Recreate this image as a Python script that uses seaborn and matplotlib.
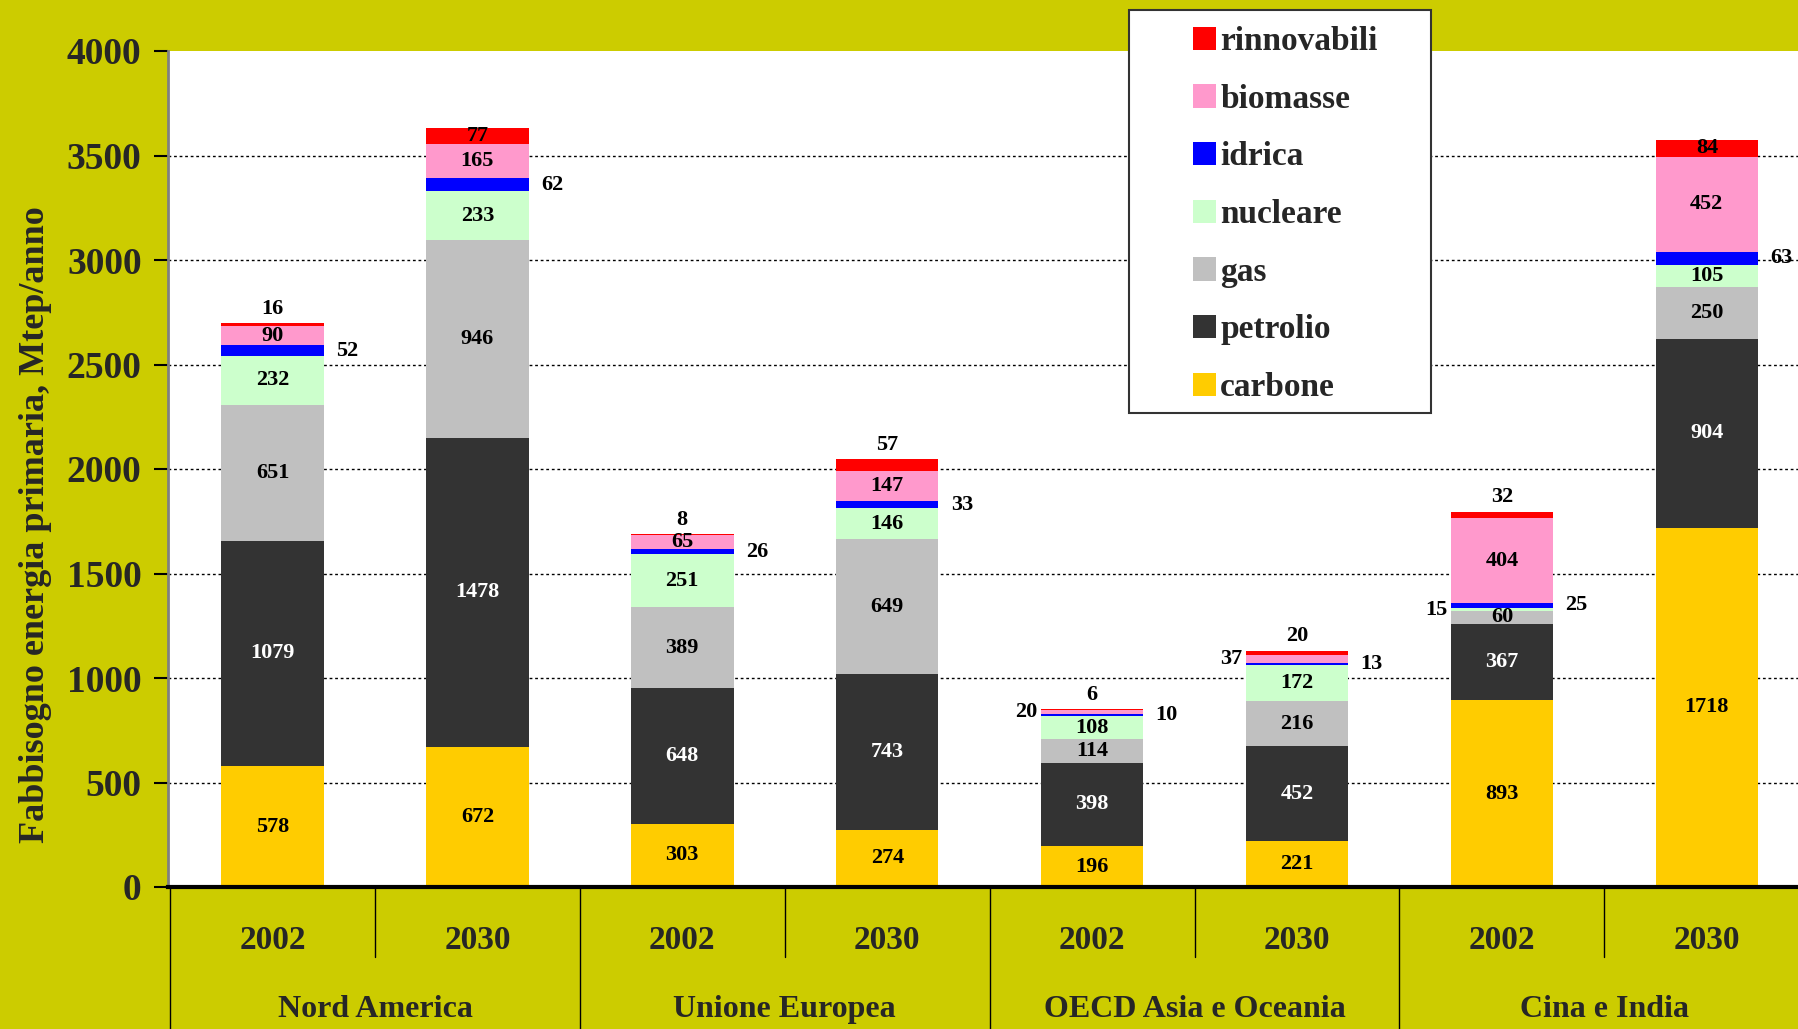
import numpy as np
import pandas as pd
import seaborn as sns
import matplotlib.pyplot as plt
from matplotlib.patches import Rectangle, Patch

regions = ['Nord America', 'Unione Europea', 'OECD Asia e Oceania', 'Cina e India']
years = ['2002', '2030']
sources = ['carbone', 'petrolio', 'gas', 'nucleare', 'idrica', 'biomasse', 'rinnovabili']
colors = ['#FFCC00', '#333333', '#C0C0C0', '#CCFFCC', '#0000FF', '#FF99CC', '#FF0000']

# one value per bar: NA 2002, NA 2030, UE 2002, UE 2030, OECD 2002, OECD 2030, CI 2002, CI 2030
carbone = [578, 672, 303, 274, 196, 221, 893, 1718]
petrolio = [1079, 1478, 648, 743, 398, 452, 367, 904]
gas = [651, 946, 389, 649, 114, 216, 60, 250]
nucleare = [232, 233, 251, 146, 108, 172, 15, 105]
idrica = [52, 62, 26, 33, 10, 13, 25, 63]
biomasse = [90, 165, 65, 147, 20, 37, 404, 452]
rinnovabili = [16, 77, 8, 57, 6, 20, 32, 84]

OLIVE = '#CCCC00'
bars = [f'{r}\n{y}' for r in regions for y in years]
df = pd.DataFrame(dict(zip(sources, [carbone, petrolio, gas, nucleare, idrica, biomasse, rinnovabili])),
                  index=bars)
cum = df.cumsum(axis=1)

sns.set_style('white')
plt.rcParams['font.family'] = ['Liberation Serif', 'DejaVu Serif']
plt.rcParams['font.weight'] = 'bold'

fig = plt.figure(figsize=(17.98, 10.29), dpi=100, facecolor=OLIVE)
ax = fig.add_axes([168 / 1798, 1 - 887 / 1029, 1 - 168 / 1798, (887 - 51) / 1029])
ax.set_facecolor('white')

# stacked bars: draw cumulative totals from top layer down
for src, col in zip(sources[::-1], colors[::-1]):
    sns.barplot(x=bars, y=cum[src].values, order=bars, color=col, saturation=1,
                width=0.5, linewidth=0, ax=ax, zorder=3)

ax.set_xlim(-0.51, 7.445)
ax.set_ylim(0, 4000)
ax.set_yticks(np.arange(0, 4001, 500))
ax.tick_params(axis='y', labelsize=27, length=10, width=1.5, pad=9, left=True, color='black')
ax.set_xticks([])
ax.set_xlabel('')
for lab in ax.get_yticklabels():
    lab.set_fontweight('bold')
for y in range(500, 4000, 500):
    ax.axhline(y, color='black', lw=1, ls=(0, (2, 2)), zorder=1)
for s in ['top', 'right']:
    ax.spines[s].set_visible(False)
ax.spines['left'].set_color('#808080')
ax.spines['left'].set_linewidth(2)
ax.spines['bottom'].set_color('black')
ax.spines['bottom'].set_linewidth(3)
ax.spines['bottom'].set_zorder(5)

ax.set_ylabel('Fabbisogno energia primaria, Mtep/anno', fontsize=26, fontweight='bold')
ax.yaxis.set_label_coords(-0.071, 0.434)

# value labels
for i, b in enumerate(bars):
    bottom = 0
    for src in sources:
        v = df.loc[b, src]
        top = bottom + v
        mid = (bottom + top) / 2
        txtcol = 'white' if src == 'petrolio' else 'black'
        kw = dict(fontsize=16, fontweight='bold', color=txtcol, zorder=6)
        if src == 'idrica':
            ax.text(i + 0.31, mid, str(v), ha='left', va='center', **kw)
        elif src == 'rinnovabili':
            y = top - v / 2 if v >= 70 else top + 68
            ax.text(i, y, str(v), ha='center', va='center', **kw)
        elif src in ('biomasse', 'nucleare') and v < 50:
            ax.text(i - 0.265, mid, str(v), ha='right', va='center', **kw)
        else:
            ax.text(i, mid, str(v), ha='center', va='center', **kw)
        bottom = top

# category axis below the plot
xt = ax.get_xaxis_transform()
for i, b in enumerate(bars):
    ax.text(i, -0.0634, years[i % 2], transform=xt, ha='center', va='center',
            fontsize=24, fontweight='bold', clip_on=False)
for k, r in enumerate(regions):
    ax.text(2 * k + 0.5, -0.146, r, transform=xt, ha='center', va='center',
            fontsize=23, fontweight='bold', clip_on=False)
for k in range(4):
    ax.plot([2 * k - 0.5] * 2, [0, -0.2], transform=xt, color='black', lw=1, clip_on=False)
    ax.plot([2 * k + 0.5] * 2, [0, -0.0843], transform=xt, color='black', lw=1, clip_on=False)

# legend
handles = [Patch(facecolor=c, edgecolor='none') for c in colors[::-1]]
leg = fig.legend(handles, sources[::-1], loc='upper left',
                 bbox_to_anchor=(1193 / 1798, 1 - 26 / 1029), frameon=False,
                 fontsize=24, handlelength=0.7, handleheight=0.7, handletextpad=0.12,
                 labelspacing=0.8, borderpad=0, borderaxespad=0)
for t in leg.get_texts():
    t.set_fontweight('bold')
fig.patches.append(Rectangle((1129 / 1798, 1 - 413 / 1029), (1431 - 1129) / 1798, (413 - 10) / 1029,
                             transform=fig.transFigure, facecolor='white', edgecolor='#333333',
                             lw=1.5, zorder=0))

fig.savefig('out.png', dpi=100, facecolor=OLIVE)
